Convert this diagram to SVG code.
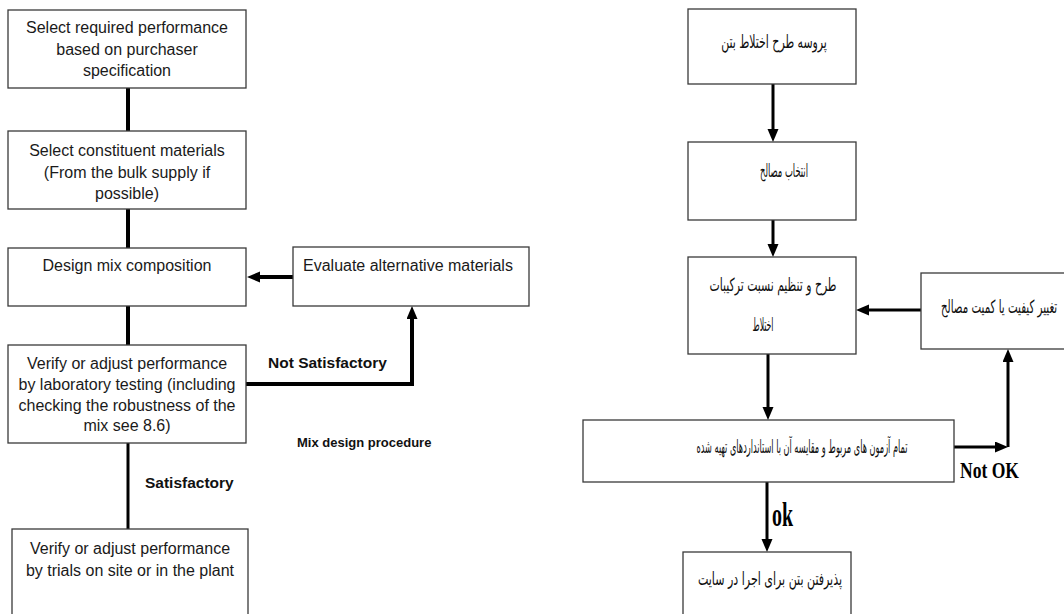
<svg xmlns="http://www.w3.org/2000/svg" width="1064" height="614" viewBox="0 0 1064 614">
  <defs>
    <style>
      .box { fill: #ffffff; stroke: #3a3a3a; stroke-width: 1.3; }
      .en { font-family: "Liberation Sans", Arial, sans-serif; font-size: 16px; fill: #1a1a1a; }
      .lbl { font-family: "Liberation Sans", Arial, sans-serif; font-weight: bold; fill: #111111; }
      .fa { font-family: "DejaVu Sans", sans-serif; font-size: 18px; fill: #111111; }
      .serif { font-family: "Liberation Serif", "Times New Roman", serif; font-weight: bold; fill: #000000; }
      .thick { fill: none; stroke: #000000; stroke-width: 4; }
      .mid { fill: none; stroke: #000000; stroke-width: 3; }
    </style>
    <marker id="head" markerUnits="userSpaceOnUse" markerWidth="14" markerHeight="12" refX="5" refY="5.5" orient="auto">
      <path d="M0,0 L13,5.5 L0,11 z" fill="#000000"/>
    </marker>
  </defs>

  <rect width="1064" height="614" fill="#ffffff"/>

  <!-- connectors -->
  <g id="connectors">
    <line class="thick" x1="128" y1="88" x2="128" y2="131"/>
    <line class="thick" x1="128" y1="209" x2="128" y2="248"/>
    <line class="thick" x1="128" y1="306" x2="128" y2="345"/>
    <line class="mid" x1="128" y1="443" x2="128" y2="529"/>
    <line class="thick" x1="293" y1="277" x2="255" y2="277" marker-end="url(#head)"/>
    <polyline class="thick" points="246,384 412,384 412,314" marker-end="url(#head)"/>

    <line class="mid" x1="773" y1="84" x2="773" y2="134" marker-end="url(#head)"/>
    <line class="mid" x1="773" y1="220" x2="773" y2="249" marker-end="url(#head)"/>
    <line class="mid" x1="921" y1="310" x2="864" y2="310" marker-end="url(#head)"/>
    <line class="mid" x1="768" y1="354" x2="768" y2="412" marker-end="url(#head)"/>
    <line class="mid" x1="954" y1="447" x2="1000" y2="447" marker-end="url(#head)"/>
    <line class="mid" x1="1008" y1="447" x2="1008" y2="357" marker-end="url(#head)"/>
    <line class="mid" x1="767" y1="482" x2="767" y2="544" marker-end="url(#head)"/>
  </g>

  <!-- left flow: mix design procedure -->
  <g id="select-performance">
    <rect class="box" x="8" y="10" width="238" height="78"/>
    <text class="en" text-anchor="middle" x="127" y="33">Select required performance</text>
    <text class="en" text-anchor="middle" x="127" y="55">based on purchaser</text>
    <text class="en" text-anchor="middle" x="127" y="76">specification</text>
  </g>
  <g id="select-materials">
    <rect class="box" x="8" y="131" width="238" height="78"/>
    <text class="en" text-anchor="middle" x="127" y="156">Select constituent materials</text>
    <text class="en" text-anchor="middle" x="127" y="178">(From the bulk supply if</text>
    <text class="en" text-anchor="middle" x="127" y="199">possible)</text>
  </g>
  <g id="design-mix">
    <rect class="box" x="8" y="248" width="238" height="58"/>
    <text class="en" text-anchor="middle" x="127" y="271">Design mix composition</text>
  </g>
  <g id="verify-lab">
    <rect class="box" x="8" y="345" width="238" height="98"/>
    <text class="en" text-anchor="middle" x="127" y="369">Verify or adjust performance</text>
    <text class="en" text-anchor="middle" x="127" y="390">by laboratory testing (including</text>
    <text class="en" text-anchor="middle" x="127" y="411">checking the robustness of the</text>
    <text class="en" text-anchor="middle" x="127" y="431">mix see 8.6)</text>
  </g>
  <g id="verify-site">
    <rect class="box" x="12" y="529" width="236" height="95"/>
    <text class="en" text-anchor="middle" x="130" y="554">Verify or adjust performance</text>
    <text class="en" text-anchor="middle" x="130" y="576">by trials on site or in the plant</text>
  </g>
  <g id="evaluate-alternatives">
    <rect class="box" x="293" y="247" width="236" height="59"/>
    <text class="en" x="303" y="271">Evaluate alternative materials</text>
  </g>

  <g id="left-labels">
    <text class="lbl" font-size="15.5" x="268" y="368">Not Satisfactory</text>
    <text class="lbl" font-size="15.5" x="145" y="488">Satisfactory</text>
    <text class="lbl" font-size="13" x="297" y="447">Mix design procedure</text>
  </g>

  <!-- right flow: concrete mix design process (narrowed Persian labels) -->
  <g id="process">
    <rect class="box" x="688" y="9" width="168" height="75"/>
    <text class="fa" text-anchor="middle" transform="translate(774,48) scale(0.606,1)">پروسه طرح اختلاط بتن</text>
  </g>
  <g id="materials">
    <rect class="box" x="688" y="142" width="168" height="78"/>
    <text class="fa" text-anchor="middle" transform="translate(784,177) scale(0.466,1)">انتخاب مصالح</text>
  </g>
  <g id="proportioning">
    <rect class="box" x="688" y="257" width="168" height="97"/>
    <text class="fa" text-anchor="middle" transform="translate(773,291) scale(0.602,1)">طرح و تنظیم نسبت ترکیبات</text>
    <text class="fa" text-anchor="middle" transform="translate(763,331) scale(0.43,1)">اختلاط</text>
  </g>
  <g id="change-materials">
    <rect class="box" x="921" y="273" width="160" height="76"/>
    <text class="fa" transform="translate(941,313) scale(0.57,1)">تغییر کیفیت یا کمیت مصالح</text>
  </g>
  <g id="testing">
    <rect class="box" x="583" y="420" width="371" height="62"/>
    <text class="fa" text-anchor="middle" transform="translate(802,453) scale(0.453,1)">تمام آزمون های مربوط و مقایسه آن با استانداردهای تهیه شده</text>
  </g>
  <g id="acceptance">
    <rect class="box" x="683" y="552" width="168" height="72"/>
    <text class="fa" text-anchor="middle" transform="translate(770,585) scale(0.614,1)">پذیرفتن بتن برای اجرا در سایت</text>
  </g>

  <g id="right-labels">
    <text class="serif" font-size="24" x="960" y="478" textLength="59" lengthAdjust="spacingAndGlyphs">Not OK</text>
    <text class="serif" font-size="34" x="772" y="526" textLength="21" lengthAdjust="spacingAndGlyphs">ok</text>
  </g>
</svg>
